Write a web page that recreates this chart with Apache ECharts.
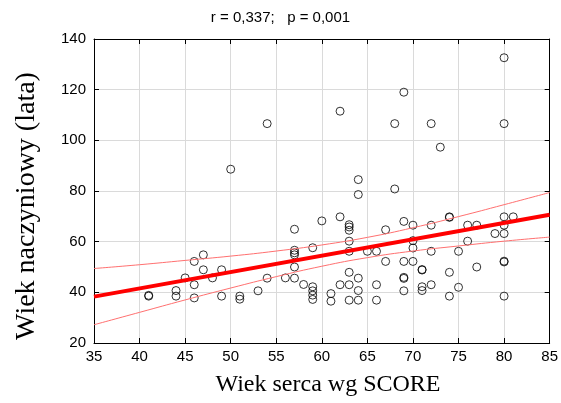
<!DOCTYPE html>
<html>
<head>
<meta charset="utf-8">
<script src="https://cdn.jsdelivr.net/npm/echarts@6/dist/echarts.min.js"></script>
<style>
  html, body { margin: 0; padding: 0; background: #fff; }
  #chart { width: 561px; height: 403px; }
</style>
</head>
<body>
<div id="chart"></div>
<script>
// Heart age (SCORE) vs vascular age, one entry per patient
const heartAge = [
  41, 41, 44, 44, 45, 46, 46, 46, 47, 47, 48, 49, 49, 50, 51, 51, 53, 54, 54, 56,
  57, 57, 57, 57, 57, 57, 58, 59, 59, 59, 59, 59, 60, 61, 61, 62, 62, 62,
  63, 63, 63, 63, 63, 63, 63, 63, 64, 64, 64, 64, 64, 65, 66, 66, 66, 67, 67,
  68, 68, 69, 69, 69, 69, 69, 69, 70, 70, 70, 70, 71, 71, 71, 71,
  72, 72, 72, 72, 73, 74, 74, 74, 74, 75, 75, 76, 76, 77, 77, 79,
  80, 80, 80, 80, 80, 80, 80, 80, 81
];
const vascularAge = [
  38.5, 38.8, 40.7, 38.5, 45.7, 52.2, 43.0, 37.8, 54.8, 48.9, 45.7, 48.9, 38.5, 88.6, 38.5, 37.3, 40.6, 106.6, 45.6, 45.7,
  64.9, 56.6, 55.6, 54.8, 50.0, 45.6, 43.1, 57.6, 42.2, 40.6, 38.9, 37.2, 68.2, 39.5, 36.5, 111.5, 69.8, 43.0,
  66.7, 65.8, 64.5, 60.2, 56.2, 47.9, 43.0, 36.9, 84.5, 78.6, 45.6, 40.7, 36.9, 56.2, 56.2, 43.0, 36.9, 64.7, 52.2,
  106.6, 80.8, 119.0, 68.0, 52.2, 45.9, 45.5, 40.6, 66.5, 60.4, 57.5, 52.2, 49.0, 48.8, 42.2, 40.7,
  106.6, 66.5, 56.2, 43.0, 97.3, 69.8, 69.6, 47.9, 38.5, 56.2, 42.0, 66.5, 60.2, 66.5, 50.0, 63.2,
  132.6, 106.6, 69.8, 66.5, 63.2, 52.3, 52.0, 38.5, 69.8
];

// Linear fit and its 95% confidence band
const fitX = [35, 85];
const fitY = [38.3, 70.6];
const bandX = [35, 40, 45, 50, 55, 60, 65, 70, 75, 80, 85];
const bandUpper = [49.4, 50.9, 52.6, 54.3, 56.3, 58.7, 61.7, 65.5, 69.9, 74.6, 79.4];
const bandLower = [27.2, 32.1, 37.0, 41.7, 46.2, 50.3, 53.7, 56.3, 58.3, 60.2, 61.8];

// Axis ranges and captions
const xTicks = { min: 35, max: 85, step: 5 };
const yTicks = { min: 20, max: 140, step: 20 };
const statsText = 'r = 0,337;   p = 0,001';
const xTitle = 'Wiek serca wg SCORE';
const yTitle = 'Wiek naczyniowy (lata)';

const zip = (xs, ys) => xs.map((x, i) => [x, ys[i]]);

const sansFont = '"Liberation Sans", Arial, sans-serif';
const serifFont = '"Liberation Serif", "Times New Roman", serif';

const axisLine = { show: true, lineStyle: { color: '#000', width: 1 } };
const innerTick = { show: true, inside: true, length: 5, lineStyle: { color: '#000', width: 1 } };

const chart = echarts.init(document.getElementById('chart'), null, { renderer: 'canvas' });

chart.setOption({
  animation: false,
  backgroundColor: '#fff',
  grid: { left: 94, right: 11, top: 39, bottom: 60, containLabel: false },
  xAxis: [
    {
      type: 'value', position: 'bottom',
      min: xTicks.min, max: xTicks.max, interval: xTicks.step,
      axisLine: axisLine, axisTick: innerTick,
      axisLabel: { color: '#000', fontSize: 15, fontFamily: sansFont, margin: 6 },
      splitLine: { show: true, lineStyle: { color: '#dadada', width: 1 } }
    },
    {
      type: 'value', position: 'top',
      min: xTicks.min, max: xTicks.max, interval: xTicks.step,
      axisLine: axisLine, axisTick: innerTick,
      axisLabel: { show: false }, splitLine: { show: false }
    }
  ],
  yAxis: [
    {
      type: 'value', position: 'left',
      min: yTicks.min, max: yTicks.max, interval: yTicks.step,
      axisLine: axisLine, axisTick: innerTick,
      axisLabel: { color: '#000', fontSize: 15, fontFamily: sansFont, margin: 8 },
      splitLine: { show: true, lineStyle: { color: '#dadada', width: 1 } }
    },
    {
      type: 'value', position: 'right',
      min: yTicks.min, max: yTicks.max, interval: yTicks.step,
      axisLine: axisLine, axisTick: innerTick,
      axisLabel: { show: false }, splitLine: { show: false }
    }
  ],
  graphic: [
    {
      type: 'text', left: 'center', top: 10,
      style: { text: statsText, fontSize: 15, fontFamily: sansFont, fill: '#000' }
    },
    {
      type: 'text', x: 328, y: 385,
      style: { text: xTitle, fontSize: 24, fontFamily: serifFont, fill: '#000',
               align: 'center', verticalAlign: 'middle' }
    },
    {
      type: 'text', x: 27, y: 206, rotation: Math.PI / 2,
      style: { text: yTitle, fontSize: 28, fontFamily: serifFont, fill: '#000',
               align: 'center', verticalAlign: 'middle' }
    }
  ],
  series: [
    {
      name: 'patients', type: 'scatter',
      data: zip(heartAge, vascularAge),
      symbol: 'circle', symbolSize: 8,
      itemStyle: { color: 'rgba(0,0,0,0)', borderColor: '#000', borderWidth: 1 },
      z: 2
    },
    {
      name: 'upper', type: 'line', data: zip(bandX, bandUpper),
      smooth: true, symbol: 'none',
      lineStyle: { color: '#ff7070', width: 1 }, z: 3
    },
    {
      name: 'lower', type: 'line', data: zip(bandX, bandLower),
      smooth: true, symbol: 'none',
      lineStyle: { color: '#ff7070', width: 1 }, z: 3
    },
    {
      name: 'fit', type: 'line', data: zip(fitX, fitY),
      symbol: 'none',
      lineStyle: { color: '#ff0000', width: 4 }, z: 4
    }
  ]
});
</script>
</body>
</html>
